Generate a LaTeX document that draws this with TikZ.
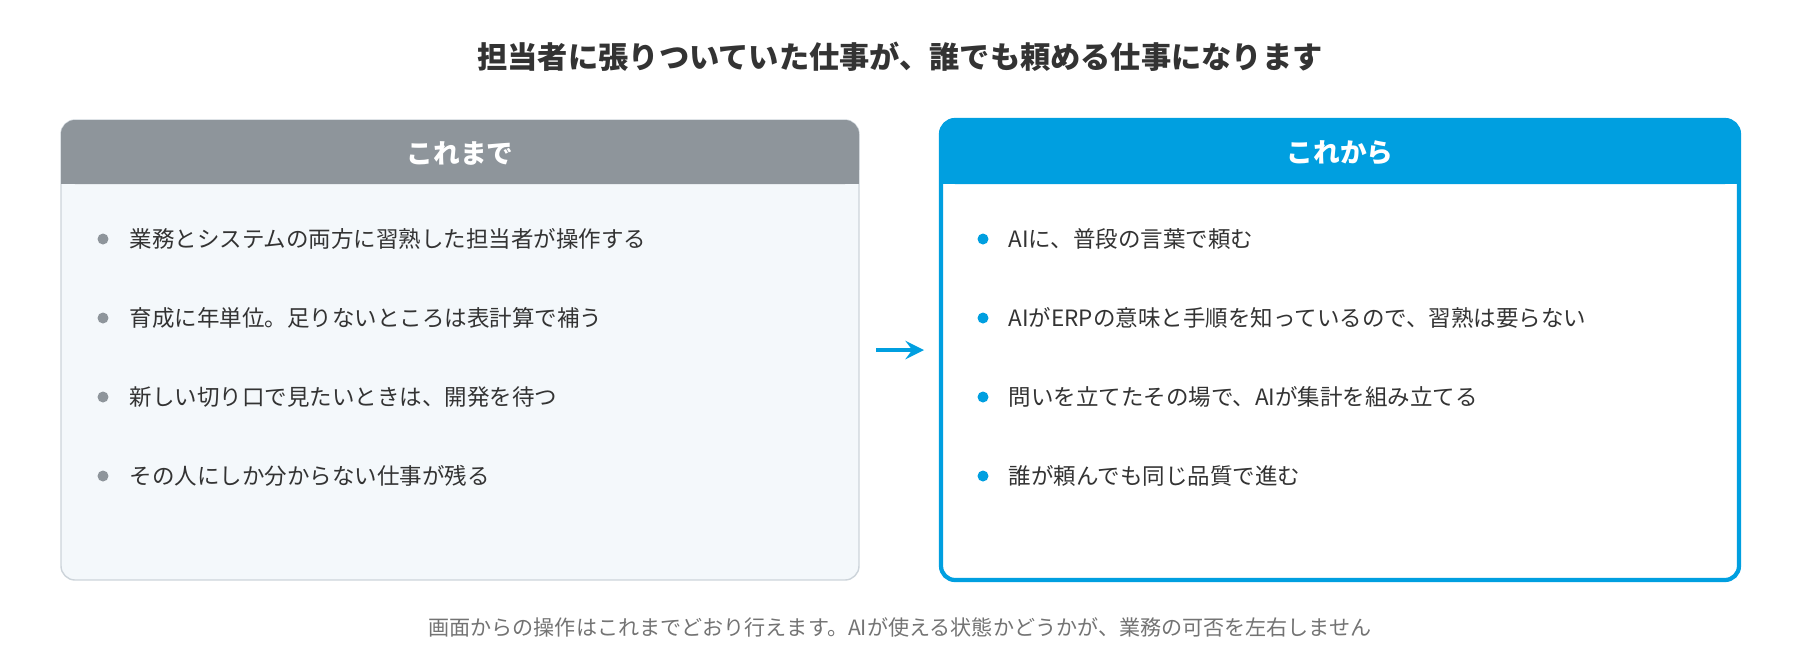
\documentclass[tikz,border=0pt]{standalone}
\usepackage{fontspec}
\setmainfont{Noto Sans CJK JP}
\usetikzlibrary{positioning}
\colorlet{background}{white}
\definecolor{penColor}{HTML}{8E959B}
\definecolor{penColor2}{HTML}{009FE0}
\definecolor{paleFill}{HTML}{F4F8FB}
\definecolor{paleLine}{HTML}{CDD4DA}
\definecolor{inkColor}{HTML}{333333}
\tikzset{>=stealth,
  item/.style={right, inkColor, font=\fontsize{6.4pt}{8pt}\selectfont, inner sep=0pt},
  head/.style={white, font=\bfseries\fontsize{7.6pt}{9pt}\selectfont},
}
\begin{document}
\begin{tikzpicture}
\useasboundingbox (0,0) rectangle (18,-6.6);
\node [inkColor, font=\bfseries\fontsize{8.6pt}{10pt}\selectfont] (title) at (9,-0.57) {担当者に張りついていた仕事が、誰でも頼める仕事になります};
% left box
\draw [paleLine, fill=paleFill, rounded corners=4pt] (0.61,-1.2) rectangle (8.59,-5.8);
\fill [penColor, rounded corners=4pt] (0.61,-1.2) rectangle (8.59,-1.84);
\fill [penColor] (0.61,-1.5) rectangle (8.59,-1.84);
\node [head] (left) at (4.6,-1.53) {これまで};
% right box
\draw [penColor2, fill=white, line width=1.2pt, rounded corners=4pt] (9.41,-1.2) rectangle (17.39,-5.8);
\fill [penColor2, rounded corners=4pt] (9.41,-1.2) rectangle (17.39,-1.84);
\fill [penColor2] (9.41,-1.5) rectangle (17.39,-1.84);
\node [head] (right) at (13.4,-1.53) {これから};
% arrow
\coordinate (a1) at (8.76,-3.5);
\coordinate (a2) at (9.24,-3.5);
\draw [->, penColor2, line width=1.3pt] (a1) -- (a2);
% items
\foreach \t [count=\i] in {業務とシステムの両方に習熟した担当者が操作する,育成に年単位。足りないところは表計算で補う,新しい切り口で見たいときは、開発を待つ,その人にしか分からない仕事が残る}{
  \fill [penColor] (1.03,-1.6-0.79*\i) circle [radius=0.055];
  \node [item] (l\i) at (1.29,-1.6-0.79*\i) {\t};
}
\foreach \t [count=\i] in {AIに、普段の言葉で頼む,AIがERPの意味と手順を知っているので、習熟は要らない,問いを立てたその場で、AIが集計を組み立てる,誰が頼んでも同じ品質で進む}{
  \fill [penColor2] (9.83,-1.6-0.79*\i) circle [radius=0.055];
  \node [item] (r\i) at (10.08,-1.6-0.79*\i) {\t};
}
\node [gray!90!black, font=\fontsize{6pt}{7pt}\selectfont] (note) at (9,-6.27) {画面からの操作はこれまでどおり行えます。AIが使える状態かどうかが、業務の可否を左右しません};
\end{tikzpicture}
\end{document}
